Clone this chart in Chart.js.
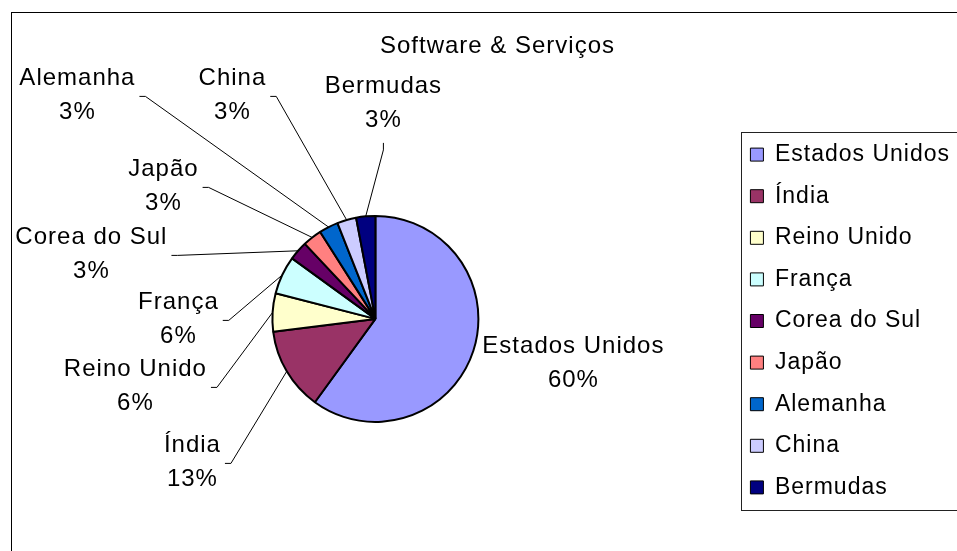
<!DOCTYPE html>
<html>
<head>
<meta charset="utf-8">
<script src="https://cdn.jsdelivr.net/npm/chart.js@4.4.1/dist/chart.umd.min.js"></script>
<style>
  html, body { margin: 0; padding: 0; background: #fff; overflow: hidden; }
  canvas { display: block; }
</style>
</head>
<body>
<canvas id="softwareChart" width="1000" height="600"></canvas>
<script>
const countries = ['Estados Unidos', 'Índia', 'Reino Unido', 'França', 'Corea do Sul', 'Japão', 'Alemanha', 'China', 'Bermudas'];
const shares = [60, 13, 6, 6, 3, 3, 3, 3, 3];
const sliceColors = ['#9999FF', '#993366', '#FFFFCC', '#CCFFFF', '#660066', '#FF8080', '#0066CC', '#CCCCFF', '#000080'];

// where the data labels sit, relative to the pie centre
const labelSpots = [
    { dx: 198, dy: 44, leader: 'none' },
    { dx: -183, dy: 143, leader: 'right' },
    { dx: -240, dy: 67, leader: 'right' },
    { dx: -197, dy: 0, leader: 'right' },
    { dx: -284, dy: -65, leader: 'right' },
    { dx: -212, dy: -133, leader: 'right' },
    { dx: -298, dy: -224, leader: 'right' },
    { dx: -143, dy: -224, leader: 'right' },
    { dx: 8, dy: -216, leader: 'bottom' },
];

const FONT = '"Liberation Sans", Arial, sans-serif';
const titleShift = 8;
const legendShift = 37.5;

// the old spreadsheet text is a bit wider than Arial on canvas
const spacing = {
    id: 'spacing',
    beforeLayout(chart) { chart.ctx.letterSpacing = '1px'; },
    beforeDraw(chart) { chart.ctx.letterSpacing = '1px'; },
};

// white page, outer chart border and the box around the legend
const framePlugin = {
    id: 'frame',
    afterLayout(chart) {
        chart.titleBlock.left += titleShift;
        chart.titleBlock.right += titleShift;
        chart.legend.top += legendShift;
        chart.legend.bottom += legendShift;
    },
    beforeDraw(chart) {
        const ctx = chart.ctx;
        ctx.save();
        ctx.fillStyle = '#fff';
        ctx.fillRect(0, 0, chart.width, chart.height);
        ctx.strokeStyle = '#000';
        ctx.lineWidth = 1;
        ctx.strokeRect(11.5, 12.5, chart.width + 20, chart.height + 20);
        ctx.restore();
    },
    afterDraw(chart) {
        const boxes = chart.legend.legendHitBoxes;
        if (!boxes || !boxes.length) return;
        const ctx = chart.ctx;
        const first = boxes[0];
        const last = boxes[boxes.length - 1];
        const left = Math.round(first.left - 9) + 0.5;
        const top = Math.round(first.top - 11) + 0.5;
        const bottom = Math.round(last.top + last.height + 11) + 0.5;
        ctx.save();
        ctx.strokeStyle = '#222';
        ctx.lineWidth = 1;
        ctx.strokeRect(left, top, chart.width + 20, bottom - top);
        ctx.restore();
    }
};

// category name + percentage, with leader lines like the spreadsheet
const pieLabels = {
    id: 'pieLabels',
    afterDatasetsDraw(chart) {
        const ctx = chart.ctx;
        const arcs = chart.getDatasetMeta(0).data;
        const values = chart.data.datasets[0].data;
        const total = values.reduce((a, b) => a + b, 0);
        ctx.save();
        ctx.font = '24px ' + FONT;
        ctx.fillStyle = '#000';
        ctx.textAlign = 'center';
        ctx.textBaseline = 'middle';
        ctx.strokeStyle = '#000';
        ctx.lineWidth = 1;
        arcs.forEach((arc, i) => {
            const { x, y, startAngle, endAngle, outerRadius } =
                arc.getProps(['x', 'y', 'startAngle', 'endAngle', 'outerRadius'], true);
            const spot = labelSpots[i];
            const cx = x + spot.dx;
            const cy = y + spot.dy;
            const lines = [chart.data.labels[i], Math.round(values[i] / total * 100) + '%'];
            ctx.fillText(lines[0], cx, cy - 17);
            ctx.fillText(lines[1], cx, cy + 17);

            const mid = (startAngle + endAngle) / 2;
            const ex = x + Math.cos(mid) * outerRadius;
            const ey = y + Math.sin(mid) * outerRadius;
            if (spot.leader === 'right') {
                const w = Math.max(...lines.map(t => ctx.measureText(t).width));
                const sx = cx + w / 2 + 4;
                const sy = cy + 1.5;
                ctx.beginPath();
                ctx.moveTo(sx, sy);
                ctx.lineTo(sx + 6, sy);
                ctx.lineTo(ex, ey);
                ctx.stroke();
            } else if (spot.leader === 'bottom') {
                const sy = cy + 40;
                ctx.beginPath();
                ctx.moveTo(cx, sy);
                ctx.lineTo(cx, sy + 7);
                ctx.lineTo(ex, ey);
                ctx.stroke();
            }
        });
        ctx.restore();
    }
};

const ctx = document.getElementById('softwareChart').getContext('2d');
new Chart(ctx, {
    type: 'pie',
    data: {
        labels: countries,
        datasets: [
            {
                data: shares,
                backgroundColor: sliceColors,
                borderColor: '#000',
                borderWidth: 2,
                hoverOffset: 0,
                offset: 0,
            },
        ],
    },
    options: {
        responsive: false,
        animation: false,
        radius: 103,
        layout: {
            padding: { top: 0, bottom: 33, left: 19, right: 40 },
        },
        plugins: {
            title: {
                display: true,
                text: 'Software & Serviços',
                color: '#000',
                font: { family: FONT, size: 24, weight: 'normal' },
                padding: { top: 32, bottom: 10 },
            },
            legend: {
                position: 'right',
                labels: {
                    color: '#000',
                    font: { family: FONT, size: 23 },
                    boxWidth: 13,
                    boxHeight: 13,
                    padding: 18.6,
                    generateLabels(chart) {
                        const items = Chart.overrides.pie.plugins.legend.labels.generateLabels(chart);
                        return items.map(item => Object.assign(item, { lineWidth: 1, strokeStyle: '#000' }));
                    },
                },
            },
            tooltip: { enabled: false },
        },
    },
    plugins: [spacing, framePlugin, pieLabels],
});
</script>
</body>
</html>
